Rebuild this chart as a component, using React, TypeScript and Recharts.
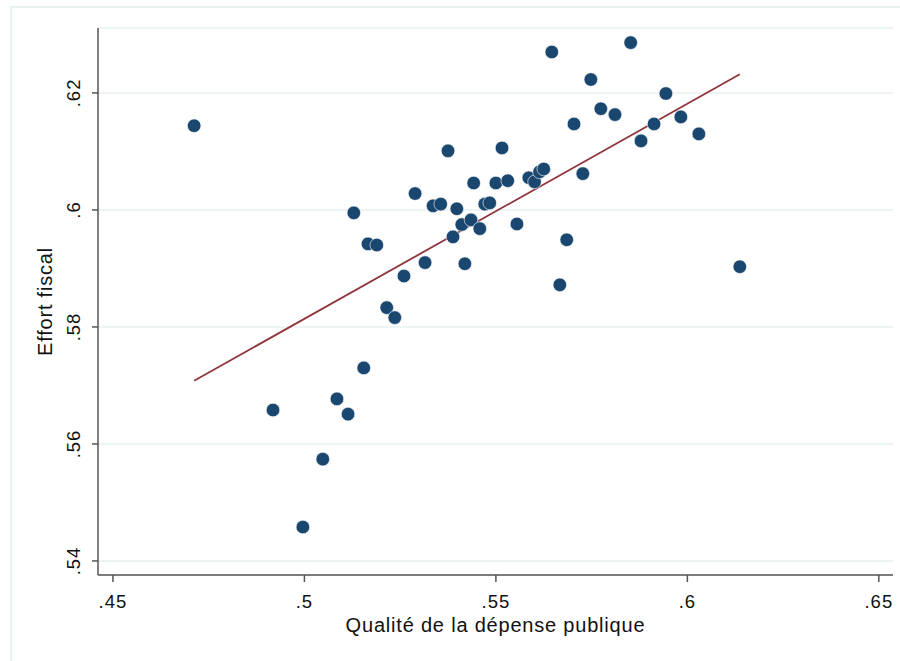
import React from "react";
import {
  ScatterChart,
  Scatter,
  XAxis,
  YAxis,
  CartesianGrid,
} from "recharts";

// quality of public spending (x) vs fiscal effort (y)
const qualite = [
  0.4712, 0.4918, 0.4996, 0.5048, 0.5085, 0.5114, 0.5129, 0.5155, 0.5166, 0.5189,
  0.5215, 0.5236, 0.526, 0.5289, 0.5315, 0.5336, 0.5356, 0.5375, 0.5388, 0.5398,
  0.5411, 0.5419, 0.5435, 0.5442, 0.5458, 0.5471, 0.5484, 0.55, 0.5516, 0.5531,
  0.5555, 0.5586, 0.5601, 0.5614, 0.5625, 0.5646, 0.5667, 0.5685, 0.5704, 0.5727,
  0.5748, 0.5774, 0.5811, 0.5852, 0.5879, 0.5913, 0.5944, 0.5983, 0.603, 0.6137,
];
const effort = [
  0.6144, 0.5658, 0.5458, 0.5574, 0.5677, 0.5651, 0.5995, 0.573, 0.5942, 0.594,
  0.5833, 0.5816, 0.5887, 0.6028, 0.591, 0.6007, 0.601, 0.6101, 0.5954, 0.6002,
  0.5975, 0.5908, 0.5983, 0.6046, 0.5968, 0.601, 0.6012, 0.6046, 0.6106, 0.605,
  0.5976, 0.6055, 0.6048, 0.6065, 0.607, 0.627, 0.5872, 0.5949, 0.6147, 0.6062,
  0.6223, 0.6173, 0.6163, 0.6286, 0.6118, 0.6147, 0.6199, 0.6159, 0.613, 0.5903,
];

// fitted line end points
const fitX = [0.4712, 0.6137];
const fitY = [0.5708, 0.6232];

const xTicks = [0.45, 0.5, 0.55, 0.6, 0.65];
const xTickLabels = [".45", ".5", ".55", ".6", ".65"];
const yTicks = [0.54, 0.56, 0.58, 0.6, 0.62];
const yTickLabels = [".54", ".56", ".58", ".6", ".62"];

const points = qualite.map((q, i) => ({ x: q, y: effort[i] }));
const fit = fitX.map((x, i) => ({ x, y: fitY[i] }));

const FONT = "'Liberation Sans', Arial, Helvetica, sans-serif";

const label = (ticks: number[], labels: string[], v: number) => {
  const i = ticks.findIndex((t) => Math.abs(t - v) < 1e-9);
  return i >= 0 ? labels[i] : String(v);
};

const YTick = (props: any) => {
  const { x, y, payload } = props;
  return (
    <text
      x={x}
      y={y}
      transform={`rotate(-90, ${x}, ${y})`}
      textAnchor="middle"
      fontSize={18.5}
      letterSpacing={1}
      fontFamily={FONT}
      fill="#111"
    >
      {label(yTicks, yTickLabels, payload.value)}
    </text>
  );
};

const XTick = (props: any) => {
  const { x, y, payload } = props;
  return (
    <text
      x={x}
      y={y + 24}
      textAnchor="middle"
      fontSize={18.5}
      letterSpacing={1}
      fontFamily={FONT}
      fill="#111"
    >
      {label(xTicks, xTickLabels, payload.value)}
    </text>
  );
};

const Dot = (props: any) => {
  const { cx, cy } = props;
  return <circle cx={cx} cy={cy} r={6.8} fill="#1a476f" stroke="#ffffff" strokeWidth={0.6} />;
};

export default function App() {
  return (
    <div
      style={{
        position: "absolute",
        left: 0,
        top: 0,
        width: 900,
        height: 661,
        overflow: "hidden",
        background: "#fff",
      }}
    >
      <div
        style={{
          position: "absolute",
          left: 10,
          top: 6,
          width: 1000,
          height: 800,
          borderLeft: "2px solid #eaf1f3",
          borderTop: "2px solid #eaf1f3",
        }}
      />
      <ScatterChart
        width={900}
        height={661}
        margin={{ top: 28, right: 7, bottom: 26, left: 38 }}
        style={{ position: "absolute", left: 0, top: 0 }}
      >
        <CartesianGrid vertical={false} stroke="#e9f0f3" strokeWidth={1.5} />
        <XAxis
          type="number"
          dataKey="x"
          domain={[0.4461, 0.6537]}
          ticks={xTicks}
          allowDataOverflow
          height={60}
          stroke="#555"
          strokeWidth={1.5}
          tickSize={7}
          tick={<XTick />}
          label={{
            value: "Qualité de la dépense publique",
            position: "insideBottom",
            offset: 3,
            fontSize: 20,
            letterSpacing: 0.8,
            fontFamily: FONT,
            fill: "#111",
          }}
        />
        <YAxis
          type="number"
          dataKey="y"
          domain={[0.5376, 0.6311]}
          ticks={yTicks}
          allowDataOverflow
          width={60}
          stroke="#555"
          strokeWidth={1.5}
          tickSize={6}
          tickMargin={12}
          tick={<YTick />}
          label={{
            value: "Effort fiscal",
            angle: -90,
            position: "insideLeft",
            offset: 7,
            fontSize: 20,
            letterSpacing: 0.8,
            fontFamily: FONT,
            fill: "#111",
            style: { textAnchor: "middle" },
          }}
        />
        <Scatter
          data={fit}
          line={{ stroke: "#90353b", strokeWidth: 1.8 }}
          shape={() => null}
          isAnimationActive={false}
        />
        <Scatter data={points} shape={<Dot />} isAnimationActive={false} />
      </ScatterChart>
    </div>
  );
}
